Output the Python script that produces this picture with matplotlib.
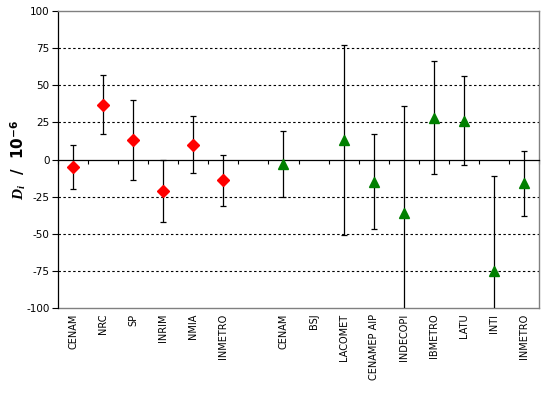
import numpy as np
import matplotlib
matplotlib.use('Agg')
import matplotlib.pyplot as plt

plt.rcParams['font.family'] = 'DejaVu Sans'
plt.rcParams['axes.unicode_minus'] = False
plt.rcParams['mathtext.fontset'] = 'custom'
plt.rcParams['mathtext.it'] = 'Liberation Serif:italic:bold'
plt.rcParams['mathtext.rm'] = 'DejaVu Sans:bold'

# категорії (порожній слот розділяє дві групи)
labels = ['CENAM', 'NRC', 'SP', 'INRIM', 'NMIA', 'INMETRO', '',
          'CENAM', 'BSJ', 'LACOMET', 'CENAMEP AIP', 'INDECOPI',
          'IBMETRO', 'LATU', 'INTI', 'INMETRO']

# червона група
red_idx = [0, 1, 2, 3, 4, 5]
red_val = [-5, 37, 13, -21, 10, -14]
red_err = [15, 20, 27, 21, 19, 17]

# зелена група (BSJ без значення)
green_idx = [7, 9, 10, 11, 12, 13, 14, 15]
green_val = [-3, 13, -15, -36, 28, 26, -75, -16]
green_err = [22, 64, 32, 72, 38, 30, 64, 22]

yticks = [-100, -75, -50, -25, 0, 25, 50, 75, 100]

fig = plt.figure(figsize=(5.42, 3.98), dpi=100)
ax = fig.add_axes([58 / 542, 1 - 308 / 398, 481 / 542, 297 / 398])

for y in [-75, -50, -25, 25, 50, 75]:
    ax.axhline(y, color='black', lw=0.8, ls=(0, (2.2, 2.2)), zorder=1)

ax.errorbar(red_idx, red_val, yerr=red_err, fmt='D', color='red',
            markersize=6.5, ecolor='black', elinewidth=0.9, capsize=2.5,
            capthick=0.9, zorder=3)
ax.errorbar(green_idx, green_val, yerr=green_err, fmt='^', color='green',
            markersize=7, ecolor='black', elinewidth=0.9, capsize=2.5,
            capthick=0.9, zorder=3)

n = len(labels)
ax.set_xlim(-0.5, n - 0.5)
ax.set_ylim(-100, 100)

# нульова лінія з рисками між категоріями
ax.spines['bottom'].set_position(('data', 0))
ax.spines['bottom'].set_color('black')
ax.spines['bottom'].set_linewidth(0.9)
ax.set_xticks(np.arange(-0.5, n, 1.0))
ax.tick_params(axis='x', direction='out', length=3, width=0.8,
               labelbottom=False)

for s in ['top', 'right']:
    ax.spines[s].set_color('gray')
    ax.spines[s].set_linewidth(1.0)
ax.spines['left'].set_color('black')
ax.spines['left'].set_linewidth(0.9)

ax.set_yticks(yticks)
ax.tick_params(axis='y', direction='out', length=4, width=0.8,
               labelsize=7.5, pad=2)

sec = ax.secondary_xaxis(0)
sec.set_xticks(range(n))
sec.set_xticklabels(labels, rotation=90, fontsize=7)
sec.tick_params(length=0, pad=4)
sec.spines['bottom'].set_color('gray')
sec.spines['bottom'].set_linewidth(1.0)

ax.set_ylabel(r'$D_i$  /  10$^{-6}$', fontsize=11, fontweight='bold')
ax.yaxis.set_label_coords(-0.062, 0.5)

fig.savefig('out.png', dpi=100)
